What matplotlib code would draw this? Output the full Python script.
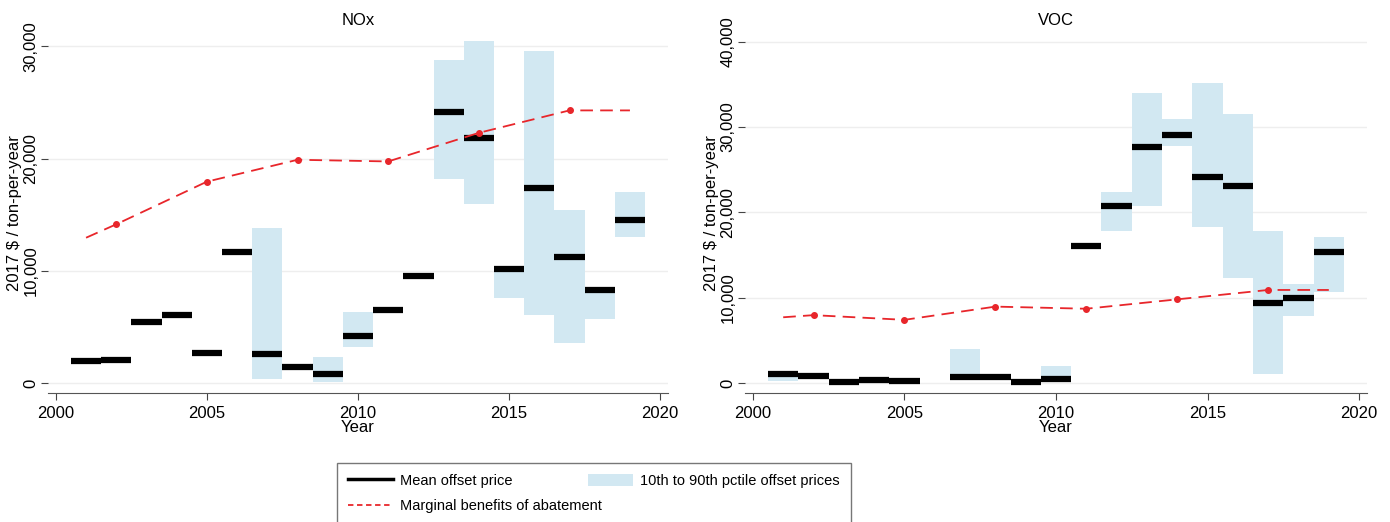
"""Offset prices vs. marginal benefits of abatement, NOx and VOC panels."""

import numpy as np
import matplotlib

matplotlib.use("Agg")
import matplotlib.pyplot as plt
from matplotlib.lines import Line2D
from matplotlib.patches import Patch

plt.rcParams["font.family"] = ["Liberation Sans", "DejaVu Sans"]

YEARS = np.arange(2001, 2020)

# NOx panel
NOX_MEAN = [2000, 2050, 5400, 6050, 2650, 11650, 2600, 1450, 800, 4200,
            6500, 9550, 24200, 21800, 10150, 17400, 11250, 8300, 14500]
NOX_P10 = [np.nan, np.nan, np.nan, np.nan, np.nan, np.nan, 350, np.nan, 50, 3250,
           np.nan, np.nan, 18200, 16000, 7600, 6050, 3550, 5750, 13050]
NOX_P90 = [np.nan, np.nan, np.nan, np.nan, np.nan, np.nan, 13800, np.nan, 2350, 6350,
           np.nan, np.nan, 28800, 30500, 10300, 29600, 15400, 8500, 17050]
NOX_MB_YEARS = [2001, 2002, 2005, 2008, 2011, 2014, 2017, 2019]
NOX_MB = [12950, 14150, 17950, 19900, 19750, 22300, 24300, 24300]

# VOC panel
VOC_MEAN = [1050, 780, 70, 310, 270, np.nan, 700, 700, 100, 500,
            16050, 20750, 27600, 29100, 24100, 23100, 9350, 10000, 15300]
VOC_P10 = [200, np.nan, np.nan, np.nan, np.nan, np.nan, 700, np.nan, np.nan, 400,
           np.nan, 17750, 20750, 27750, 18300, 12250, 1050, 7800, 10700]
VOC_P90 = [1400, np.nan, np.nan, np.nan, np.nan, np.nan, 4000, np.nan, np.nan, 2050,
           np.nan, 22350, 33950, 30900, 35100, 31500, 17850, 11600, 17100]
VOC_MB_YEARS = [2001, 2002, 2005, 2008, 2011, 2014, 2017, 2019]
VOC_MB = [7700, 7950, 7400, 8950, 8700, 9800, 10900, 10900]

BOX_COLOR = "#d2e8f2"
MB_COLOR = "#e8262b"
FONT_SIZE = 12


def draw_panel(ax, title, mean, p10, p90, mb_years, mb, yticks, ylim):
    years = YEARS.astype(float)
    mean = np.asarray(mean, dtype=float)
    p10 = np.asarray(p10, dtype=float)
    p90 = np.asarray(p90, dtype=float)

    ax.bar(years, p90 - p10, bottom=p10, width=1.0, color=BOX_COLOR,
           edgecolor="none", zorder=2)
    ax.hlines(mean, years - 0.5, years + 0.5, color="black", linewidth=4.5,
              zorder=3)
    ax.plot(mb_years, mb, color=MB_COLOR, linestyle=(0, (7, 4)),
            linewidth=1.3, zorder=4)
    ax.plot(mb_years[1:-1], mb[1:-1], linestyle="none", marker="o",
            markersize=4, color=MB_COLOR, zorder=5)

    ax.set_xlim(1999.74, 2020.26)
    ax.set_ylim(*ylim)
    ax.set_xticks([2000, 2005, 2010, 2015, 2020])
    ax.set_yticks(yticks)
    ax.set_yticklabels([f"{v:,}" for v in yticks], rotation=90, va="center")
    ax.tick_params(axis="both", labelsize=FONT_SIZE, color="#444444", length=5)
    ax.tick_params(axis="x", pad=4)
    ax.tick_params(axis="y", pad=2)
    ax.grid(axis="y", color="#eeeeee", linewidth=1, zorder=0)
    ax.set_axisbelow(True)
    for side in ("top", "right", "left"):
        ax.spines[side].set_visible(False)
    ax.spines["bottom"].set_color("#555555")
    ax.set_title(title, fontsize=FONT_SIZE, pad=6)
    ax.set_xlabel("Year", fontsize=FONT_SIZE, labelpad=0)
    ax.set_ylabel("2017 $ / ton-per-year", fontsize=FONT_SIZE, labelpad=1)


fig = plt.figure(figsize=(13.9, 5.22), dpi=100)
ax_nox = fig.add_axes([48 / 1390, 1 - 393 / 522, 620 / 1390, 360 / 522])
ax_voc = fig.add_axes([745 / 1390, 1 - 393 / 522, 622 / 1390, 360 / 522])

draw_panel(ax_nox, "NOx", NOX_MEAN, NOX_P10, NOX_P90, NOX_MB_YEARS, NOX_MB,
           [0, 10000, 20000, 30000], (-890, 31200))
draw_panel(ax_voc, "VOC", VOC_MEAN, VOC_P10, VOC_P90, VOC_MB_YEARS, VOC_MB,
           [0, 10000, 20000, 30000, 40000], (-1170, 41000))

handles = [
    Line2D([], [], color="black", linewidth=2.5),
    Line2D([], [], color=MB_COLOR, linestyle=(0, (3, 2)), linewidth=1.3),
    Patch(facecolor=BOX_COLOR, edgecolor="none"),
]
labels = [
    "Mean offset price",
    "Marginal benefits of abatement",
    "10th to 90th pctile offset prices",
]
leg = fig.legend(handles, labels, ncol=2, loc="upper left",
                 bbox_to_anchor=(337 / 1390, 1 - 463 / 522),
                 fontsize=10.5, frameon=True, fancybox=False,
                 edgecolor="#555555", handlelength=3.1, handleheight=0.9,
                 columnspacing=-1.0, labelspacing=0.75, borderpad=0.75,
                 handletextpad=0.5, borderaxespad=0)
leg.get_frame().set_linewidth(1.0)

fig.savefig("out.png", dpi=100)
